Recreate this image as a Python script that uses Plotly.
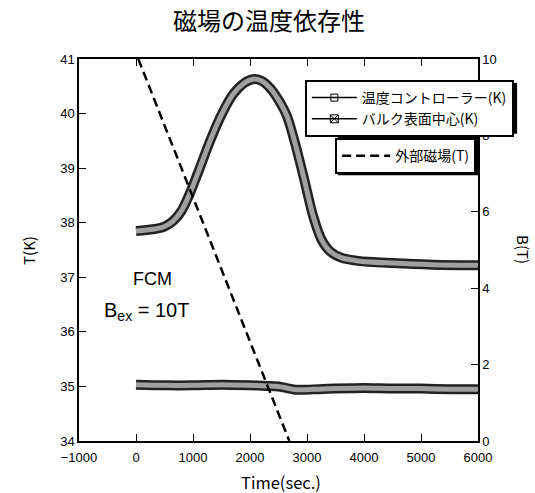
import plotly.graph_objects as go

# ---- data ----
ctrl_t = [0, 500, 1000, 1500, 2000, 2300, 2500, 2650, 2800, 2950, 3200, 3500, 4000, 4500, 5000, 5500, 6000]
ctrl_T = [35.03, 35.02, 35.02, 35.03, 35.02, 35.01, 35.0, 34.97, 34.94, 34.94, 34.95, 34.96, 34.97, 34.96, 34.96, 34.95, 34.95]

bulk_t = [0, 300, 500, 650, 800, 950, 1100, 1300, 1500, 1700, 1900, 2050, 2200, 2350, 2500,
          2650, 2800, 2950, 3100, 3250, 3400, 3600, 3900, 4500, 5200, 6000]
bulk_T = [37.85, 37.88, 37.93, 38.03, 38.22, 38.55, 38.95, 39.5, 39.98, 40.35, 40.56, 40.63, 40.6,
          40.47, 40.25, 39.95, 39.42, 38.8, 38.15, 37.7, 37.48, 37.36, 37.3, 37.26, 37.23, 37.22]

field_t = [40, 2690]
field_B = [10, 0]

names = ["温度コントローラー(K)", "バルク表面中心(K)", "外部磁場(T)"]
title_text = "磁場の温度依存性"

fig = go.Figure()

# thick hatched-looking curves: dark outline + gray core
for t, T in [(ctrl_t, ctrl_T), (bulk_t, bulk_T)]:
    fig.add_trace(go.Scatter(x=t, y=T, mode="lines", line=dict(color="#222", width=10, shape="spline", smoothing=0.8),
                             showlegend=False, hoverinfo="skip"))
    fig.add_trace(go.Scatter(x=t, y=T, mode="lines", line=dict(color="#a0a0a0", width=5, shape="spline", smoothing=0.8),
                             showlegend=False, hoverinfo="skip"))

fig.add_trace(go.Scatter(x=field_t, y=field_B, mode="lines", yaxis="y2",
                         line=dict(color="black", width=2.5, dash="9px,5px"), showlegend=False))

# legend entries
fig.add_trace(go.Scatter(x=[None], y=[None], mode="lines+markers", name=names[0], legend="legend",
                         line=dict(color="black", width=1.5),
                         marker=dict(symbol="square-open", size=7, color="black")))
fig.add_trace(go.Scatter(x=[None], y=[None], mode="lines+markers", name=names[1], legend="legend",
                         line=dict(color="black", width=1.5),
                         marker=dict(symbol="square-x-open", size=8, color="black")))
fig.add_trace(go.Scatter(x=[None], y=[None], mode="lines", name=names[2], legend="legend2",
                         line=dict(color="black", width=2.5, dash="9px,5px")))

tickfont = dict(family="Liberation Sans Narrow, Liberation Sans, Arial", size=13, color="black")
axis_common = dict(showline=True, linecolor="black", linewidth=1.5, ticks="inside", ticklen=7,
                   tickcolor="black", showgrid=False, zeroline=False, tickfont=tickfont)

fig.update_layout(
    width=535, height=493,
    margin=dict(l=79, r=57, t=59, b=52),
    paper_bgcolor="white", plot_bgcolor="white",
    xaxis=dict(range=[-1000, 6000], dtick=1000, mirror="ticks", ticklabelstandoff=4, **axis_common),
    yaxis=dict(range=[34, 41], dtick=1, **axis_common),
    yaxis2=dict(range=[0, 10], dtick=2, overlaying="y", side="right", **axis_common),
    legend=dict(x=0.566, y=0.945, xanchor="left", yanchor="top", bgcolor="white",
                bordercolor="black", borderwidth=2, tracegroupgap=0, itemwidth=45,
                font=dict(family="Noto Sans CJK JP", size=14, color="black")),
    legend2=dict(x=0.642, y=0.793, xanchor="left", yanchor="top", bgcolor="white",
                 bordercolor="black", borderwidth=2, itemwidth=48,
                 font=dict(family="Noto Sans CJK JP", size=14, color="black")),
    title=dict(text=title_text, x=0.503, y=0.957, xanchor="center", yanchor="middle",
               font=dict(family="Noto Sans CJK JP", size=24, color="black")),
    shapes=[
        # drop shadows behind the legend boxes
        dict(type="rect", xref="paper", yref="paper", x0=0.574, x1=1.098, y0=0.804, y1=0.937,
             fillcolor="black", line=dict(width=0), layer="above"),
        dict(type="rect", xref="paper", yref="paper", x0=0.649, x1=1.0025, y0=0.696, y1=0.8796,
             fillcolor="black", line=dict(width=0), layer="above"),
    ],
    annotations=[
        dict(text="T(K)", x=-0.128, y=0.5, xref="paper", yref="paper", xanchor="center", yanchor="middle",
             textangle=-90, showarrow=False,
             font=dict(family="Noto Sans CJK JP", size=15, color="black")),
        dict(text="B(T)", x=1.115, y=0.5, xref="paper", yref="paper", xanchor="center", yanchor="middle",
             textangle=90, showarrow=False,
             font=dict(family="Noto Sans CJK JP", size=15, color="black")),
        dict(text="Time(sec.)", x=0.506, y=-0.107, xref="paper", yref="paper", xanchor="center",
             yanchor="middle", showarrow=False,
             font=dict(family="Noto Sans CJK JP", size=16.5, color="black")),
        dict(text="FCM", x=0.183, y=0.425, xref="paper", yref="paper", xanchor="center", yanchor="middle",
             showarrow=False, font=dict(family="Liberation Sans, Arial", size=18, color="black")),
        dict(text="B<sub>ex</sub> = 10T", x=0.058, y=0.34, xref="paper", yref="paper", xanchor="left",
             yanchor="middle", showarrow=False,
             font=dict(family="Liberation Sans, Arial", size=20, color="black")),
    ],
)

fig.write_html("out.html", config={"displayModeBar": False},
               post_script="document.body.style.margin='0';")
